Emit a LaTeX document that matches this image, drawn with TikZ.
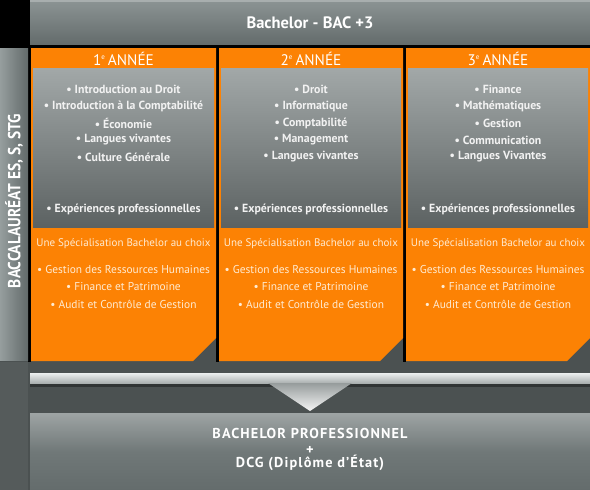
\documentclass[tikz,border=0pt]{standalone}
\usepackage{fontspec}
\usepackage{graphicx}
\setmainfont{PT Sans}
\definecolor{bgdark}{HTML}{4B5151}
\definecolor{leftdark}{HTML}{555B5B}
\definecolor{orangeA}{HTML}{FC8204}
\definecolor{panelTop}{HTML}{A2A8A8}
\definecolor{panelBot}{HTML}{5C6262}
\definecolor{headTop}{HTML}{8C9494}
\definecolor{headBot}{HTML}{646C6C}
\definecolor{paleText}{HTML}{FFEBD2}
\definecolor{itemText}{HTML}{F2F2F2}
\tikzset{
  colbox/.style={fill=orangeA},
  panel/.style={top color=panelTop, bottom color=panelBot, draw=none},
  yeartitle/.style={text=white, font=\fontsize{15.3}{15.3}\selectfont, anchor=center, inner sep=0pt},
  itemtext/.style={text=itemText, font=\fontsize{11.8}{11.8}\selectfont\bfseries, anchor=center, inner sep=0pt},
  spectitle/.style={text=paleText, font=\fontsize{11}{11}\selectfont, anchor=center, inner sep=0pt},
  spectext/.style={text=paleText, font=\fontsize{11.4}{11.4}\selectfont, anchor=center, inner sep=0pt},
  headtext/.style={text=white, font=\fontsize{16.5}{16.5}\selectfont\bfseries, anchor=center, inner sep=0pt},
  foottext/.style={text=white, font=\fontsize{14.3}{14.3}\selectfont\bfseries\addfontfeature{LetterSpace=8}, anchor=base, inner sep=0pt},
}
\begin{document}
\begin{tikzpicture}[x=1pt,y=-1pt]
\useasboundingbox (0,0) rectangle (590,490);
% background
\fill[bgdark] (0,0) rectangle (590,490);
\fill[leftdark] (0,362) rectangle (28,490);
\fill[black] (0,0) rectangle (30,48);
\fill[black] (28,44) rectangle (590,48);
\fill[black] (28,48) rectangle (31,362);
\fill[black] (216,48) rectangle (219,362);
\fill[black] (403,48) rectangle (406,362);
% header
\shade[top color=headTop, bottom color=headBot] (30,0) rectangle (590,44);
\fill[white, opacity=0.25] (30,0) rectangle (590,2);
\node[headtext] (head) at (310,23) {Bachelor - BAC +3};
% left column
\shade[left color={rgb,255:red,150;green,158;blue,158}, right color={rgb,255:red,98;green,106;blue,106}] (0,48) rectangle (28,360);
\node[text=white, font=\fontsize{17.5}{17.5}\selectfont\bfseries, rotate=90, inner sep=0pt] (bac) at (14,201) {\scalebox{0.88}[1]{BACCALAURÉAT ES, S, STG}};
% columns
\foreach \x/\w [count=\i] in {31/185, 219/184, 406/184}{
  \fill[colbox] (\x,48) -- (\x+\w,48) -- (\x+\w,338) -- (\x+\w-23,361) -- (\x,361) -- cycle;
  \shade[panel] (\x+2,68) rectangle (\x+\w-2,227);
}
% column 1
\node[yeartitle] (t1) at (123.5,58.5) {1\textsuperscript{\fontsize{7}{7}\selectfont e}\,ANNÉE};
\node[itemtext] (a1) at (123.5,89) {• Introduction au Droit};
\node[itemtext] (a2) at (123.5,106) {• Introduction à la Comptabilité};
\node[itemtext] (a3) at (123.5,123) {• Économie};
\node[itemtext] (a4) at (123.5,140) {• Langues vivantes};
\node[itemtext] (a5) at (123.5,157) {• Culture Générale};
\node[itemtext] (a6) at (123.5,209) {• Expériences professionnelles};
\node[spectitle] (s1) at (123.5,244) {Une Spécialisation Bachelor au choix};
\node[spectext] (sa1) at (123.5,270) {• Gestion des Ressources Humaines};
\node[spectext] (sa2) at (123.5,287) {• Finance et Patrimoine};
\node[spectext] (sa3) at (123.5,304) {• Audit et Contrôle de Gestion};
% column 2
\node[yeartitle] (t2) at (311,58.5) {2\textsuperscript{\fontsize{7}{7}\selectfont e}\,ANNÉE};
\node[itemtext] (b1) at (311,89) {• Droit};
\node[itemtext] (b2) at (311,106) {• Informatique};
\node[itemtext] (b3) at (311,123) {• Comptabilité};
\node[itemtext] (b4) at (311,140) {• Management};
\node[itemtext] (b5) at (311,157) {• Langues vivantes};
\node[itemtext] (b6) at (311,209) {• Expériences professionnelles};
\node[spectitle] (s2) at (311,244) {Une Spécialisation Bachelor au choix};
\node[spectext] (sb1) at (311,270) {• Gestion des Ressources Humaines};
\node[spectext] (sb2) at (311,287) {• Finance et Patrimoine};
\node[spectext] (sb3) at (311,304) {• Audit et Contrôle de Gestion};
% column 3
\node[yeartitle] (t3) at (498,58.5) {3\textsuperscript{\fontsize{7}{7}\selectfont e}\,ANNÉE};
\node[itemtext] (c1) at (498,89) {• Finance};
\node[itemtext] (c2) at (498,106) {• Mathématiques};
\node[itemtext] (c3) at (498,123) {• Gestion};
\node[itemtext] (c4) at (498,140) {• Communication};
\node[itemtext] (c5) at (498,157) {• Langues Vivantes};
\node[itemtext] (c6) at (498,209) {• Expériences professionnelles};
\node[spectitle] (s3) at (498,244) {Une Spécialisation Bachelor au choix};
\node[spectext] (sc1) at (498,270) {• Gestion des Ressources Humaines};
\node[spectext] (sc2) at (498,287) {• Finance et Patrimoine};
\node[spectext] (sc3) at (498,304) {• Audit et Contrôle de Gestion};
% bar and arrow
\fill[black, opacity=0.35] (30,383) rectangle (590,387);
\shade[top color={rgb,255:red,235;green,238;blue,238}, bottom color={rgb,255:red,170;green,176;blue,176}] (30,373) rectangle (590,383);
\shade[top color={rgb,255:red,150;green,156;blue,156}, bottom color={rgb,255:red,245;green,245;blue,245}] (268,383) -- (352,383) -- (310,411) -- cycle;
% bottom box
\shade[top color={rgb,255:red,158;green,164;blue,164}, bottom color={rgb,255:red,100;green,108;blue,108}, middle color={rgb,255:red,112;green,120;blue,120}] (30,413) rectangle (590,490);
\node[foottext] (f1) at (310,438) {BACHELOR PROFESSIONNEL};
\node[foottext, anchor=center] (f2) at (310,450) {+};
\node[foottext] (f3) at (310,467.5) {DCG (Diplôme d'État)};
\end{tikzpicture}
\end{document}
